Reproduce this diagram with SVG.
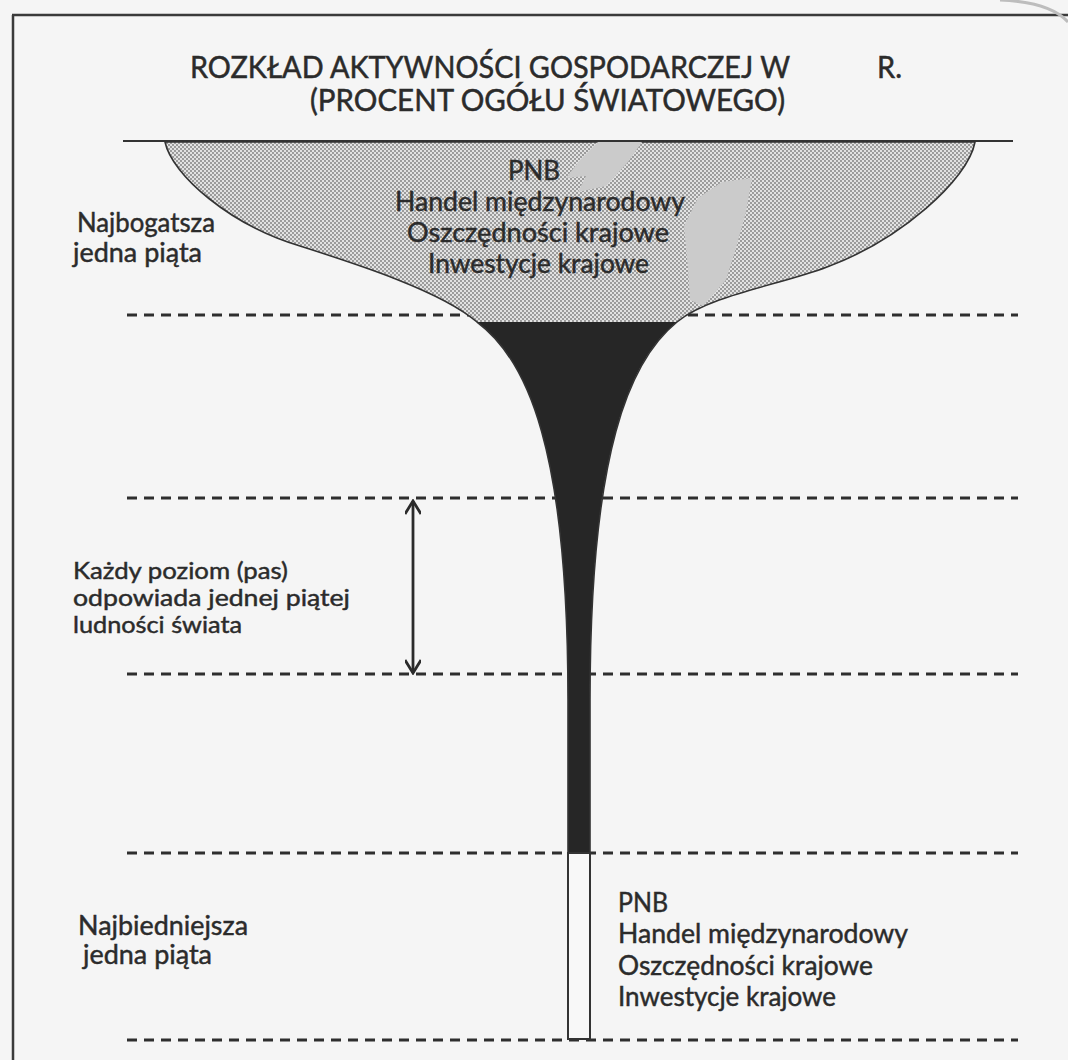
<svg xmlns="http://www.w3.org/2000/svg" width="1068" height="1060" viewBox="0 0 1068 1060">
  <style>
    .lbl { font-family: Lato, "Open Sans", "Liberation Sans", sans-serif; font-size: 26px; fill: #2b2b2b; stroke: #2b2b2b; stroke-width: 0.45; }
    .sm { font-size: 23px; }
    .ttl { font-family: Lato, "Open Sans", "Liberation Sans", sans-serif; font-size: 30px; fill: #2b2b2b; stroke: #2b2b2b; stroke-width: 0.5; }
    .dash { stroke: #2e2e2e; stroke-width: 3; stroke-dasharray: 10 7; fill: none; }
    .frame { stroke: #3a3a3a; stroke-width: 2.5; fill: none; }
    .blot { fill: #cbcbcb; stroke: none; }
  </style>
  <defs>
    <pattern id="stipple" width="4" height="4" patternUnits="userSpaceOnUse">
      <rect width="4" height="4" fill="#e2e2e2"/>
      <circle cx="1" cy="1" r="0.9" fill="#7a7a7a"/>
      <circle cx="3" cy="3" r="0.9" fill="#7a7a7a"/>
    </pattern>
    <clipPath id="clipTop"><rect x="0" y="0" width="1068" height="322"/></clipPath>
    <clipPath id="clipBot"><rect x="0" y="322" width="1068" height="540"/></clipPath>
    <path id="glass" d="M165,142 C172,175 230,225 300,246 C350,262 440,290 477,322 C528,360 568,450 568,700 L568,853 L590,853 L590,700 C590,450 630,360 677,322 C710,295 780,285 827,267 C900,240 968,180 975,142 Z"/>
    <marker id="head" viewBox="0 0 24 16" markerWidth="24" markerHeight="16" refX="22" refY="8" orient="auto-start-reverse" markerUnits="userSpaceOnUse">
      <path d="M9,0 L22,8 L9,16" fill="none" stroke="#2b2b2b" stroke-width="2.8"/>
    </marker>
  </defs>

  <rect x="0" y="0" width="1068" height="1060" fill="#f5f5f5"/>

  <g id="frame">
    <path class="frame" d="M12,15 L1068,15 M13,15 L13,1060"/>
    <path d="M1000,0 Q1050,2 1068,22" fill="none" stroke="#bdbdbd" stroke-width="3"/>
  </g>

  <g id="title">
    <text class="ttl" x="190" y="78" textLength="600" lengthAdjust="spacingAndGlyphs">ROZKŁAD AKTYWNOŚCI GOSPODARCZEJ W</text>
    <text class="ttl" x="877" y="78" textLength="25" lengthAdjust="spacingAndGlyphs">R.</text>
    <text class="ttl" x="310" y="111" textLength="475" lengthAdjust="spacingAndGlyphs">(PROCENT OGÓŁU ŚWIATOWEGO)</text>
  </g>

  <g id="connectors">
    <line class="dash" x1="127" y1="315" x2="1018" y2="315"/>
    <line class="dash" x1="127" y1="498" x2="1018" y2="498"/>
    <line class="dash" x1="127" y1="674" x2="1018" y2="674"/>
    <line class="dash" x1="127" y1="853" x2="1018" y2="853"/>
    <line class="dash" x1="127" y1="1040" x2="1018" y2="1040"/>
    <line x1="413" y1="501" x2="413" y2="673" stroke="#2b2b2b" stroke-width="2.8" marker-start="url(#head)" marker-end="url(#head)"/>
  </g>

  <g id="glass-shape">
    <line x1="123" y1="141" x2="1013" y2="141" stroke="#333" stroke-width="1.8"/>
    <use href="#glass" fill="url(#stipple)" clip-path="url(#clipTop)"/>
    <use href="#glass" fill="#262626" clip-path="url(#clipBot)"/>
    <use href="#glass" fill="none" stroke="#333" stroke-width="1.6"/>
    <rect x="568" y="853" width="22" height="186" fill="#f8f8f8" stroke="#333" stroke-width="2"/>
    <path class="blot" d="M598,142 L642,142 L628,162 L606,186 L578,192 L586,176 L566,178 L580,160 Z"/>
    <path class="blot" d="M722,182 L752,178 L746,212 L736,248 L726,280 L703,306 L690,300 L688,268 L684,226 L698,198 Z"/>
  </g>

  <g id="node-rich">
    <text class="lbl" x="77" y="232" textLength="138" lengthAdjust="spacingAndGlyphs">Najbogatsza</text>
    <text class="lbl" x="73" y="262" textLength="129" lengthAdjust="spacingAndGlyphs">jedna piąta</text>
  </g>

  <g id="node-rich-values">
    <text class="lbl" x="508" y="180" textLength="52" lengthAdjust="spacingAndGlyphs">PNB</text>
    <text class="lbl" x="395" y="211" textLength="290" lengthAdjust="spacingAndGlyphs">Handel międzynarodowy</text>
    <text class="lbl" x="407" y="242" textLength="262" lengthAdjust="spacingAndGlyphs">Oszczędności krajowe</text>
    <text class="lbl" x="428" y="273" textLength="221" lengthAdjust="spacingAndGlyphs">Inwestycje krajowe</text>
  </g>

  <g id="node-band">
    <text class="lbl sm" x="73" y="579" textLength="215" lengthAdjust="spacingAndGlyphs">Każdy poziom (pas)</text>
    <text class="lbl sm" x="73" y="606" textLength="277" lengthAdjust="spacingAndGlyphs">odpowiada jednej piątej</text>
    <text class="lbl sm" x="73" y="633" textLength="169" lengthAdjust="spacingAndGlyphs">ludności świata</text>
  </g>

  <g id="node-poor">
    <text class="lbl" x="78" y="935" textLength="170" lengthAdjust="spacingAndGlyphs">Najbiedniejsza</text>
    <text class="lbl" x="83" y="964" textLength="129" lengthAdjust="spacingAndGlyphs">jedna piąta</text>
  </g>

  <g id="node-poor-values">
    <text class="lbl" x="618" y="912" textLength="50" lengthAdjust="spacingAndGlyphs">PNB</text>
    <text class="lbl" x="618" y="943" textLength="290" lengthAdjust="spacingAndGlyphs">Handel międzynarodowy</text>
    <text class="lbl" x="618" y="975" textLength="255" lengthAdjust="spacingAndGlyphs">Oszczędności krajowe</text>
    <text class="lbl" x="618" y="1006" textLength="218" lengthAdjust="spacingAndGlyphs">Inwestycje krajowe</text>
  </g>
</svg>
